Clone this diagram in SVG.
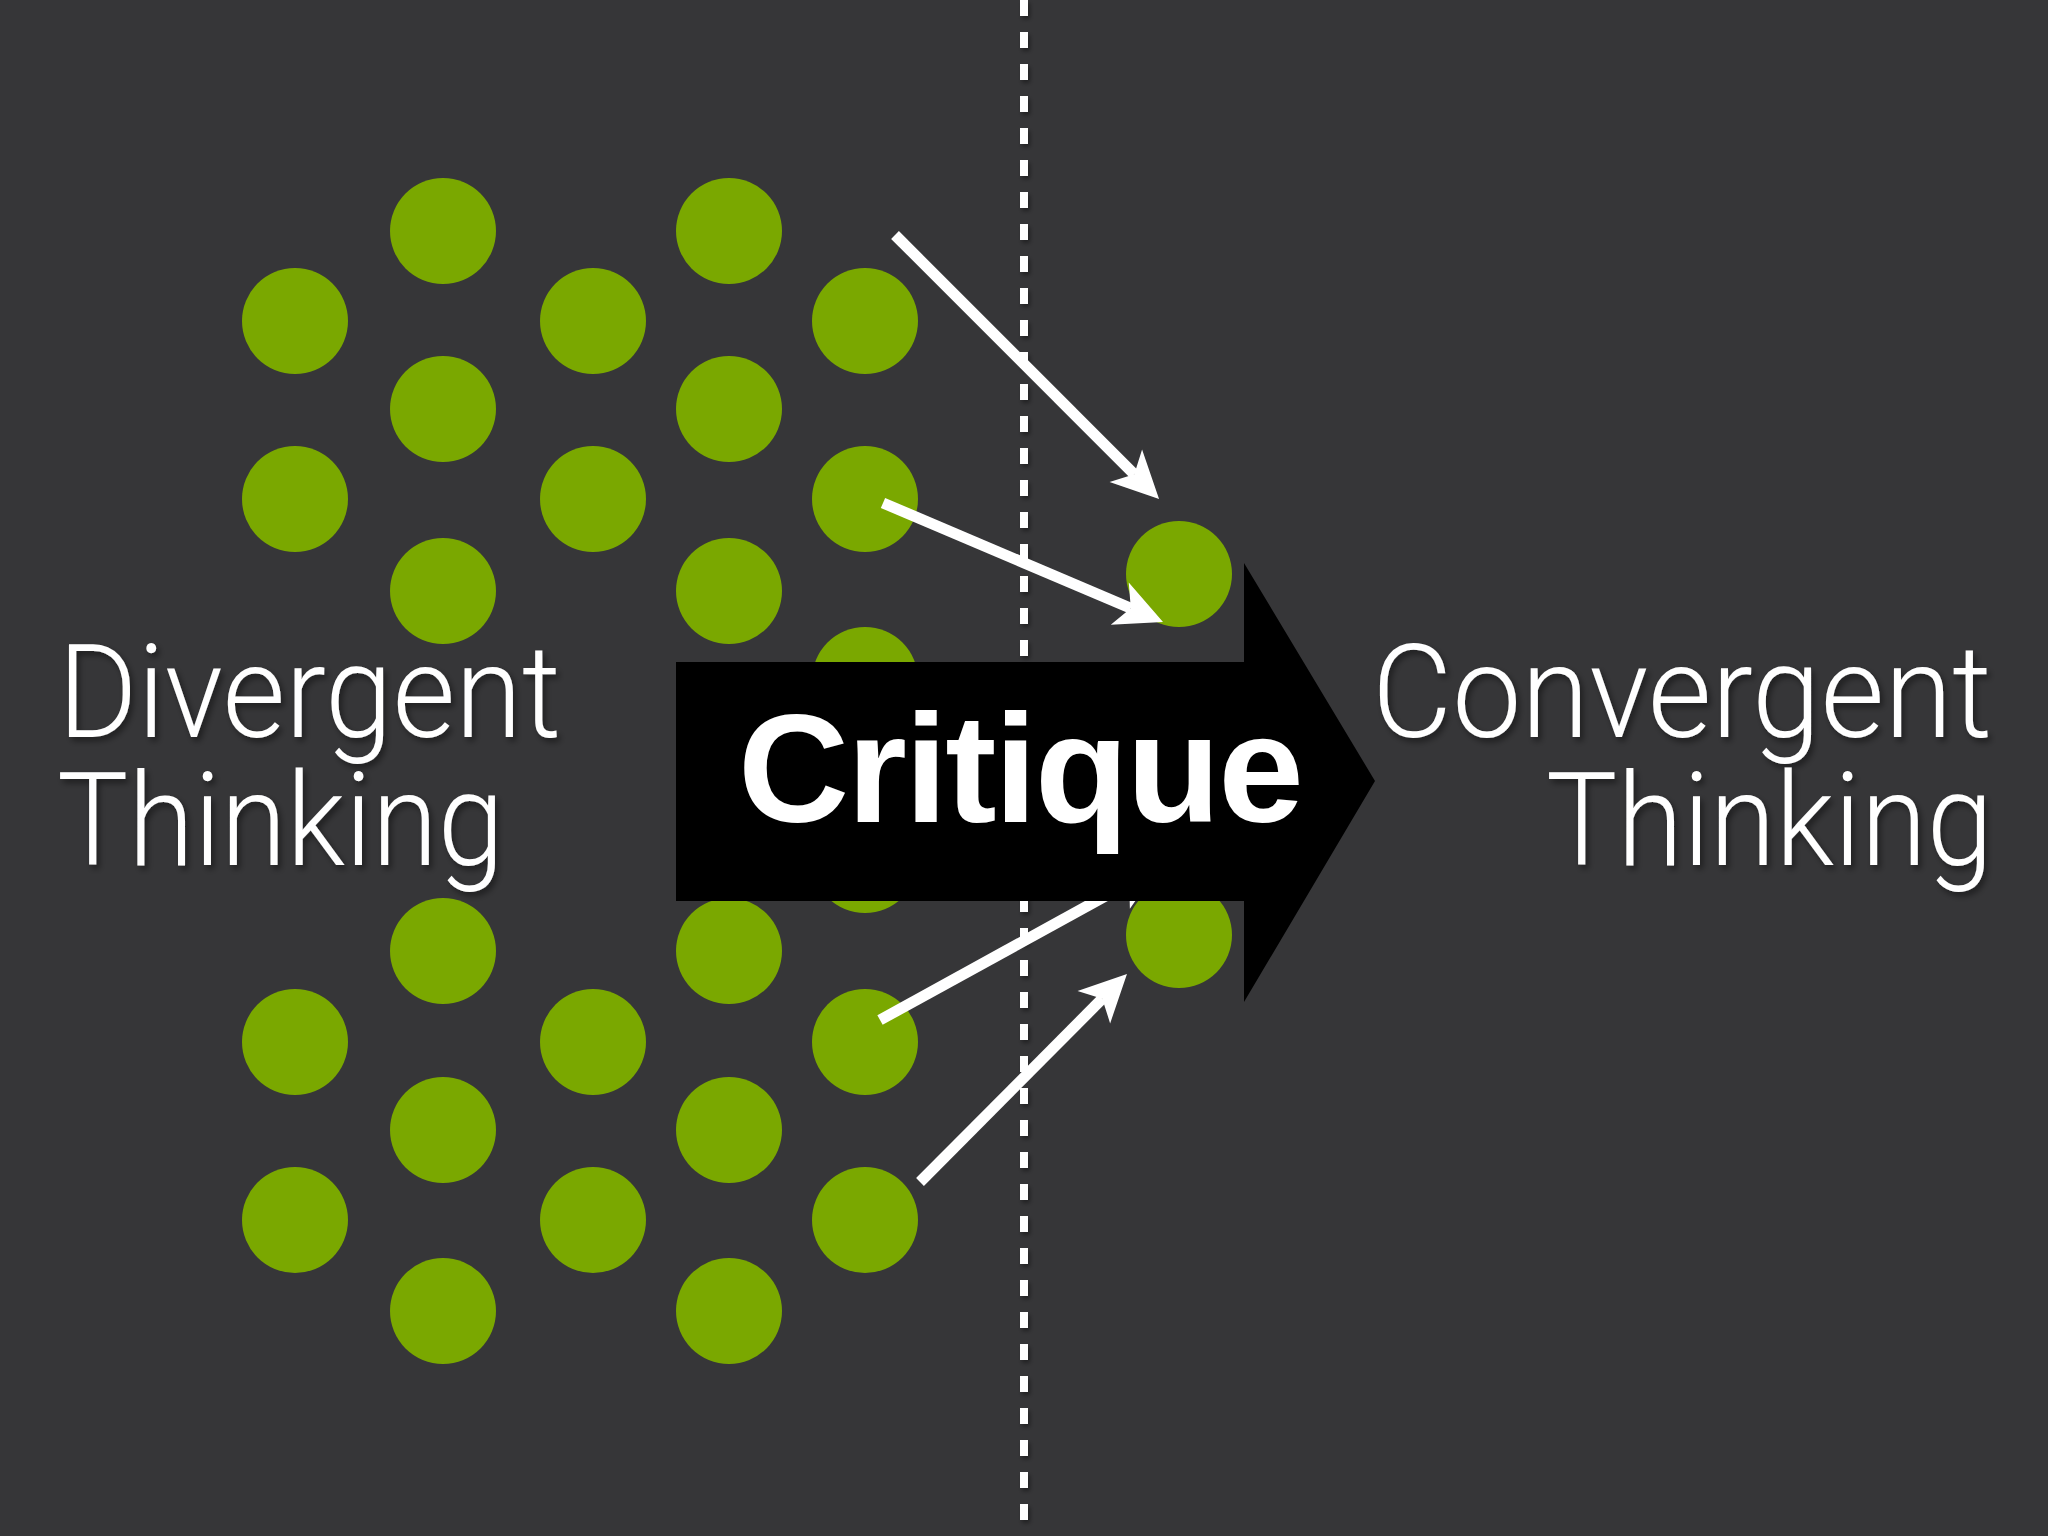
<svg xmlns="http://www.w3.org/2000/svg" width="2048" height="1536" viewBox="0 0 2048 1536">
  <style>
    .dot { fill: #7aa800; }
    .conn { stroke: #ffffff; stroke-width: 11; fill: none; stroke-linecap: butt; marker-end: url(#head); }
    .label { fill: #ffffff; font-family: Roboto, "Liberation Sans", sans-serif; font-weight: 300; font-size: 130px; }
    .crit { fill: #ffffff; font-family: "Liberation Sans", Arial, sans-serif; font-weight: bold; font-size: 154px; }
  </style>
  <defs>
    <marker id="head" markerUnits="userSpaceOnUse" orient="auto" refX="0" refY="0" markerWidth="60" markerHeight="60" overflow="visible">
      <path d="M35,0 L-12,-23 L0,0 L-12,23 Z" fill="#ffffff"/>
    </marker>
    <filter id="shadow" x="-10%" y="-10%" width="120%" height="130%">
      <feDropShadow dx="3" dy="4" stdDeviation="3" flood-color="#000000" flood-opacity="0.45"/>
    </filter>
    <filter id="lineShadow" filterUnits="userSpaceOnUse" x="990" y="-20" width="70" height="1580">
      <feDropShadow dx="2" dy="3" stdDeviation="2" flood-color="#000000" flood-opacity="0.4"/>
    </filter>
  </defs>

  <rect x="0" y="0" width="2048" height="1536" fill="#363638"/>

  <g id="divider">
    <line x1="1024" y1="0" x2="1024" y2="1520" stroke="#ffffff" stroke-width="8" stroke-dasharray="16 16" filter="url(#lineShadow)"/>
  </g>

  <g id="ideas">
    <g id="dot-c1-1"><circle class="dot" cx="295" cy="321" r="53"/></g>
    <g id="dot-c1-2"><circle class="dot" cx="295" cy="499" r="53"/></g>
    <g id="dot-c1-3"><circle class="dot" cx="295" cy="1042" r="53"/></g>
    <g id="dot-c1-4"><circle class="dot" cx="295" cy="1220" r="53"/></g>
    <g id="dot-c2-1"><circle class="dot" cx="443" cy="231" r="53"/></g>
    <g id="dot-c2-2"><circle class="dot" cx="443" cy="409" r="53"/></g>
    <g id="dot-c2-3"><circle class="dot" cx="443" cy="591" r="53"/></g>
    <g id="dot-c2-4"><circle class="dot" cx="443" cy="951" r="53"/></g>
    <g id="dot-c2-5"><circle class="dot" cx="443" cy="1130" r="53"/></g>
    <g id="dot-c2-6"><circle class="dot" cx="443" cy="1311" r="53"/></g>
    <g id="dot-c3-1"><circle class="dot" cx="593" cy="321" r="53"/></g>
    <g id="dot-c3-2"><circle class="dot" cx="593" cy="499" r="53"/></g>
    <g id="dot-c3-3"><circle class="dot" cx="593" cy="1042" r="53"/></g>
    <g id="dot-c3-4"><circle class="dot" cx="593" cy="1220" r="53"/></g>
    <g id="dot-c4-1"><circle class="dot" cx="729" cy="231" r="53"/></g>
    <g id="dot-c4-2"><circle class="dot" cx="729" cy="409" r="53"/></g>
    <g id="dot-c4-3"><circle class="dot" cx="729" cy="591" r="53"/></g>
    <g id="dot-c4-4"><circle class="dot" cx="729" cy="951" r="53"/></g>
    <g id="dot-c4-5"><circle class="dot" cx="729" cy="1130" r="53"/></g>
    <g id="dot-c4-6"><circle class="dot" cx="729" cy="1311" r="53"/></g>
    <g id="dot-c5-1"><circle class="dot" cx="865" cy="321" r="53"/></g>
    <g id="dot-c5-2"><circle class="dot" cx="865" cy="499" r="53"/></g>
    <g id="dot-c5-3"><circle class="dot" cx="865" cy="680" r="53"/></g>
    <g id="dot-c5-4"><circle class="dot" cx="865" cy="860" r="53"/></g>
    <g id="dot-c5-5"><circle class="dot" cx="865" cy="1042" r="53"/></g>
    <g id="dot-c5-6"><circle class="dot" cx="865" cy="1220" r="53"/></g>
    <g id="target-upper"><circle class="dot" cx="1179" cy="574" r="53"/></g>
    <g id="target-lower"><circle class="dot" cx="1179" cy="935" r="53"/></g>
  </g>

  <g id="connectors">
    <line class="conn" x1="895" y1="235" x2="1134.3" y2="474.3"/>
    <line class="conn" x1="883" y1="503" x2="1130.8" y2="608.3"/>
    <line class="conn" x1="880" y1="1020" x2="1129.3" y2="882.9"/>
    <line class="conn" x1="920" y1="1182" x2="1102.3" y2="998.7"/>
  </g>

  <g id="critique">
    <polygon points="676,662 1244,662 1244,563 1375,781 1244,1002 1244,901 676,901" fill="#000000"/>
    <text class="crit" x="738" y="822" textLength="566" lengthAdjust="spacing">Critique</text>
  </g>

  <g id="divergent" filter="url(#shadow)">
    <text class="label" x="58" y="737" textLength="503" lengthAdjust="spacingAndGlyphs">Divergent</text>
    <text class="label" x="57" y="865" textLength="447" lengthAdjust="spacingAndGlyphs">Thinking</text>
  </g>

  <g id="convergent" filter="url(#shadow)">
    <text class="label" x="1992" y="737" text-anchor="end" textLength="620" lengthAdjust="spacingAndGlyphs">Convergent</text>
    <text class="label" x="1993" y="865" text-anchor="end" textLength="447" lengthAdjust="spacingAndGlyphs">Thinking</text>
  </g>
</svg>
